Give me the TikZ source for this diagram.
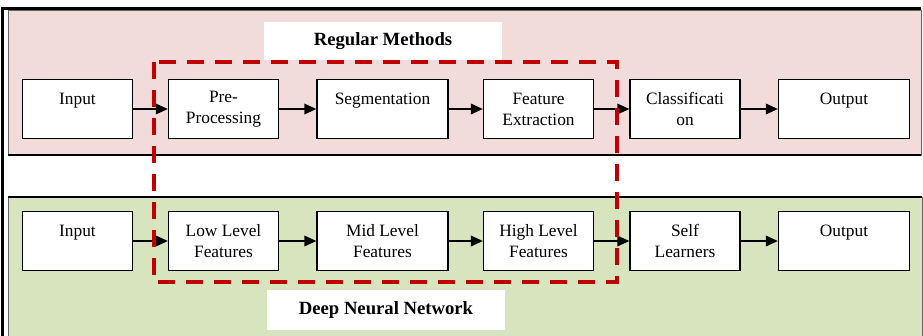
\documentclass[tikz,border=0pt]{standalone}
\usepackage{fontspec}
\setmainfont{Liberation Serif}
\usetikzlibrary{arrows.meta}
\definecolor{panelpink}{HTML}{F2DCDB}
\definecolor{panelgreen}{HTML}{D7E4BD}
\definecolor{dashred}{HTML}{C00000}

\begin{document}
\begin{tikzpicture}[x=0.75pt, y=-0.75pt,
    blk/.style={draw, fill=white, line width=1pt, inner sep=0pt,
        minimum width=82.5pt, minimum height=44.25pt, align=center,
        font=\fontsize{13}{15.75}\selectfont},
    wide/.style={minimum width=98.25pt},
    title/.style={fill=white, inner sep=0pt, minimum width=178.5pt,
        minimum height=29pt, font=\fontsize{14}{16}\selectfont\bfseries},
    arr/.style={-{Triangle[length=9pt,width=8pt]}, line width=1pt}]
    \useasboundingbox (0,0) rectangle (923,335);

    % panels
    \fill[panelpink] (8,11) rectangle (921,155);
    \draw[black!60, line width=0.75pt] (8,11) rectangle (921,155);
    \draw[line width=1.5pt] (8,155) -- (921,155);
    \fill[panelgreen] (8,197) rectangle (922,336);
    \draw[black!60, line width=0.75pt] (8,336) -- (8,197) -- (922,197) -- (922,336);
    \draw[line width=1.2pt] (8,197) -- (922,197);
    \draw[line width=2.25pt] (2,336) -- (2,9) -- (921,9);

    % regular methods
    \node (regular) [title] at (383,41) {Regular Methods};
    \node (in1) [blk] at (77.5,109) {Input\\~};
    \node (pre) [blk] at (223.5,109) {Pre-\\Processing};
    \node (seg) [blk, wide] at (382.5,109) {Segmentation\\~};
    \node (fext) [blk] at (538.5,109) {Feature\\Extraction};
    \node (cls) [blk] at (685,109) {Classificati\\on};
    \node (out1) [blk, wide] at (844,109) {Output\\~};

    \draw[arr] (in1) -- (pre);
    \draw[arr] (pre) -- (seg);
    \draw[arr] (seg) -- (fext);
    \draw[arr] (fext) -- (cls);
    \draw[arr] (cls) -- (out1);

    % deep neural network
    \node (deep) [title, minimum height=30pt] at (386,310) {Deep Neural Network};
    \node (in2) [blk] at (77.5,241) {Input\\~};
    \node (low) [blk] at (223.5,241) {Low Level\\Features};
    \node (mid) [blk, wide] at (382.5,241) {Mid Level\\Features};
    \node (high) [blk] at (538.5,241) {High Level\\Features};
    \node (self) [blk] at (685,241) {Self\\Learners};
    \node (out2) [blk, wide] at (844,241) {Output\\~};

    \draw[arr] (in2) -- (low);
    \draw[arr] (low) -- (mid);
    \draw[arr] (mid) -- (high);
    \draw[arr] (high) -- (self);
    \draw[arr] (self) -- (out2);

    % shared stages
    \draw[dashred, line width=3pt, dash pattern=on 12.5pt off 8.5pt]
        (154,62) rectangle (617,282);
\end{tikzpicture}
\end{document}
